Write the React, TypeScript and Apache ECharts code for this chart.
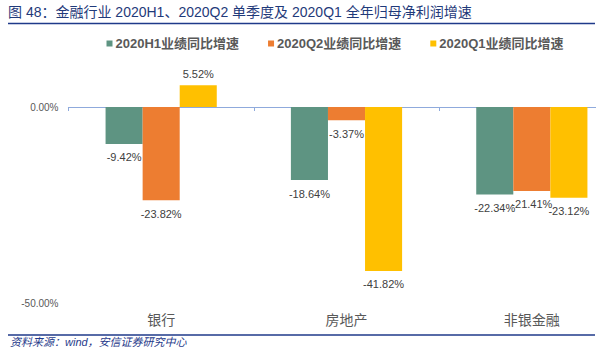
import React, { useEffect, useRef } from "react";
import * as echarts from "echarts";

const categories = ["银行", "房地产", "非银金融"];
const seriesNames = ["2020H1业绩同比增速", "2020Q2业绩同比增速", "2020Q1业绩同比增速"];
const h1Values = [-9.42, -18.64, -22.34];
const q2Values = [-23.82, -3.37, -21.41];
const q1Values = [5.52, -41.82, -23.12];
const seriesColors = ["#5E9482", "#ED7D31", "#FFC000"];
const yTickLabels = [0, -50];

const titleText = "图 48：金融行业 2020H1、2020Q2 单季度及 2020Q1 全年归母净利润增速";
const sourceText = "资料来源：wind，安信证券研究中心";

const FONT = "'Liberation Sans', Arial, 'Noto Sans CJK SC', sans-serif";

export default function App() {
  const ref = useRef<HTMLDivElement>(null);
  useEffect(() => {
    if (!ref.current) return;
    document.body.style.margin = "0";
    const chart = echarts.init(ref.current, undefined, { renderer: "svg" });
    const allValues = [h1Values, q2Values, q1Values];
    const series = allValues.map((vals, i) => ({
      name: seriesNames[i],
      type: "bar",
      xAxisIndex: 0,
      barGap: "0%",
      barCategoryGap: "40%",
      itemStyle: { color: seriesColors[i] },
      data: vals.map((v) => ({
        value: v,
        label: v < 0 ? { position: "bottom", distance: 8 } : { position: "top", distance: 6 },
      })),
      label: {
        show: true,
        color: "#404040",
        fontSize: 11,
        fontFamily: FONT,
        formatter: (p: any) => Number(p.value).toFixed(2) + "%",
      },
    }));
    chart.setOption({
      animation: false,
      backgroundColor: "#ffffff",
      textStyle: { fontFamily: FONT },
      legend: {
        data: seriesNames,
        left: 101.5,
        top: 32,
        icon: "rect",
        itemWidth: 6,
        itemHeight: 6,
        itemGap: 29,
        textStyle: {
          color: "#595959",
          fontSize: 13,
          fontWeight: "bold",
          fontFamily: FONT,
          padding: [0, 0, 0, -2],
        },
      },
      grid: { left: 68.5, top: 67.8, width: 556, height: 235.2, containLabel: false },
      xAxis: [
        {
          type: "category",
          data: categories,
          axisLine: { onZero: true, lineStyle: { color: "#8FAADC", width: 1.2 } },
          axisTick: { show: true, length: 4, inside: false, lineStyle: { color: "#8FAADC" } },
          axisLabel: { show: false },
        },
        {
          type: "category",
          data: categories,
          position: "bottom",
          axisLine: { show: false, onZero: false },
          axisTick: { show: false },
          axisLabel: { show: true, color: "#595959", fontSize: 14, margin: 10, fontFamily: FONT },
        },
      ],
      yAxis: {
        type: "value",
        min: -50,
        max: 10,
        interval: 10,
        axisLine: { show: false },
        axisTick: { show: false },
        splitLine: { show: false },
        axisLabel: {
          color: "#595959",
          fontSize: 10,
          margin: 10,
          fontFamily: FONT,
          formatter: (v: number) => (yTickLabels.includes(v) ? v.toFixed(2) + "%" : ""),
        },
      },
      series,
      graphic: [
        {
          type: "rect",
          z: 100,
          shape: { x: 596, y: 55, width: 60, height: 260 },
          style: { fill: "#ffffff" },
        },
        {
          type: "text",
          left: 8,
          top: 5,
          style: {
            text: titleText,
            fill: "#1F3A7A",
            font: `14px ${FONT}`,
          },
        },
        {
          type: "line",
          shape: { x1: 8, y1: 23.5, x2: 595, y2: 23.5 },
          style: { stroke: "#1F3A8A", lineWidth: 1.5 },
        },
        {
          type: "line",
          shape: { x1: 8, y1: 335, x2: 595, y2: 335 },
          style: { stroke: "#1F3A8A", lineWidth: 1.5 },
        },
        {
          type: "text",
          left: 10,
          top: 336,
          style: {
            text: sourceText,
            fill: "#1F3A8A",
            font: `italic 11px ${FONT}`,
          },
        },
      ],
    });
    return () => chart.dispose();
  }, []);
  return (
    <div style={{ width: 602, height: 359, overflow: "hidden", position: "relative" }}>
      <div ref={ref} style={{ width: 640, height: 359 }} />
    </div>
  );
}
